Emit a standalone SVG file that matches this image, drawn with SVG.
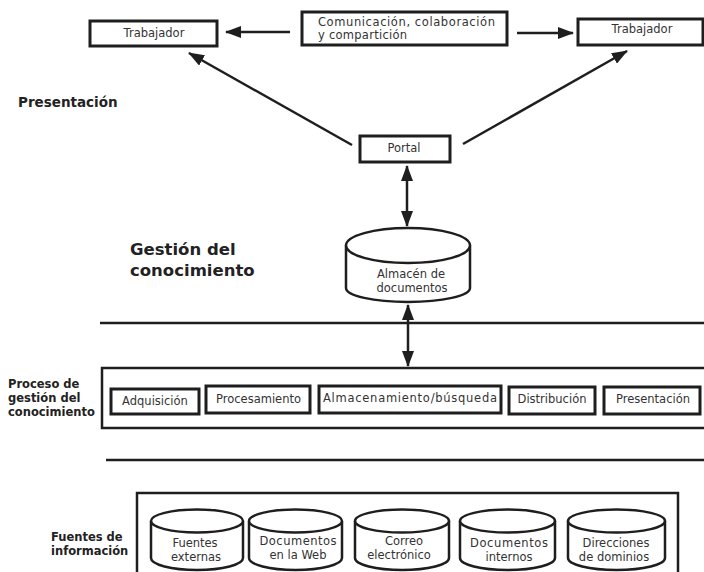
<svg xmlns="http://www.w3.org/2000/svg" width="704" height="572" viewBox="0 0 704 572">
<style>
.box{fill:#fff;stroke:#1e1e1e;stroke-width:3}
.frame{fill:none;stroke:#1e1e1e;stroke-width:2.5}
.cyl{fill:#fff;stroke:#1e1e1e;stroke-width:2.5}
.rule{stroke:#1e1e1e;stroke-width:2.5}
.conn{stroke:#1e1e1e;stroke-width:2.5;fill:none}
.t{font-family:"DejaVu Sans",sans-serif;font-size:11.5px;fill:#333}
.tc{font-family:"DejaVu Sans",sans-serif;font-size:11.5px;fill:#333;text-anchor:middle}
.lbl{font-family:"DejaVu Sans",sans-serif;font-weight:bold;fill:#222}
</style>
<defs>
<marker id="ah" viewBox="0 0 16 12" refX="15" refY="6" markerWidth="16" markerHeight="12" markerUnits="userSpaceOnUse" orient="auto-start-reverse">
<path d="M0,0 L16,6 L0,12 z" fill="#1e1e1e"/>
</marker>
</defs>
<rect width="704" height="572" fill="#fff"/>

<g id="connectors">
<line class="conn" x1="290" y1="32" x2="226" y2="32" marker-end="url(#ah)"/>
<line class="conn" x1="517" y1="33" x2="573" y2="33" marker-end="url(#ah)"/>
<line class="conn" x1="352" y1="145" x2="189" y2="53" marker-end="url(#ah)"/>
<line class="conn" x1="463" y1="144" x2="627" y2="51" marker-end="url(#ah)"/>
<line class="conn" x1="407" y1="166" x2="407" y2="226" marker-start="url(#ah)" marker-end="url(#ah)"/>
<line class="conn" x1="408" y1="305" x2="408" y2="366" marker-start="url(#ah)" marker-end="url(#ah)"/>
</g>

<g id="separators">
<line class="rule" x1="100" y1="323" x2="704" y2="323"/>
<line class="rule" x1="106" y1="460" x2="704" y2="460"/>
</g>

<g id="labels">
<text class="lbl" x="18" y="107" font-size="13.5">Presentación</text>
<text class="lbl" x="130" y="255" font-size="16.5">Gestión del</text>
<text class="lbl" x="130" y="276" font-size="16.5">conocimiento</text>
<text class="lbl" x="8" y="388" font-size="11.5">Proceso de</text>
<text class="lbl" x="8" y="402" font-size="11.5">gestión del</text>
<text class="lbl" x="8" y="416" font-size="11.5">conocimiento</text>
<text class="lbl" x="51" y="541" font-size="11.5">Fuentes de</text>
<text class="lbl" x="51" y="555" font-size="11.5">información</text>
</g>

<g id="trabajador-left">
<rect class="box" x="90" y="21" width="127" height="25"/>
<text class="tc" x="154" y="37">Trabajador</text>
</g>

<g id="comunicacion">
<rect class="box" x="302" y="12" width="205" height="33"/>
<text class="t" x="318" y="26" font-size="12" textLength="177">Comunicación, colaboración</text>
<text class="t" x="318" y="39" font-size="12" textLength="89">y compartición</text>
</g>

<g id="trabajador-right">
<rect class="box" x="578" y="19" width="125" height="26"/>
<text class="tc" x="642" y="33">Trabajador</text>
</g>

<g id="portal">
<rect class="box" x="360" y="136" width="90" height="26"/>
<text class="tc" x="404" y="152">Portal</text>
</g>

<g id="almacen">
<path class="cyl" d="M346,245.5 L346,288 A62,14 0 0 0 470,288 L470,245.5"/>
<ellipse class="cyl" cx="408" cy="245.5" rx="62" ry="17.5"/>
<text class="tc" x="411" y="278" font-size="12.5">Almacén de</text>
<text class="tc" x="412" y="292" font-size="12.5">documentos</text>
</g>

<g id="proceso">
<rect class="frame" x="102" y="368" width="606" height="60"/>
</g>

<g id="adquisicion">
<rect class="box" x="111" y="389" width="88" height="25"/>
<text class="tc" x="155" y="405">Adquisición</text>
</g>
<g id="procesamiento">
<rect class="box" x="206" y="386" width="104" height="27"/>
<text class="t" x="216" y="403">Procesamiento</text>
</g>
<g id="almacenamiento">
<rect class="box" x="319" y="386" width="182" height="27"/>
<text class="t" x="323" y="402" font-size="12" textLength="174">Almacenamiento/búsqueda</text>
</g>
<g id="distribucion">
<rect class="box" x="509" y="387" width="86" height="27"/>
<text class="tc" x="552" y="403">Distribución</text>
</g>
<g id="presentacion">
<rect class="box" x="604" y="387" width="96" height="27"/>
<text class="tc" x="653" y="403">Presentación</text>
</g>

<g id="fuentes">
<rect class="frame" x="137" y="493" width="541" height="90"/>
</g>

<g id="fuentes-externas">
<path class="cyl" d="M151,521 L151,558 A46,12 0 0 0 243,558 L243,521"/>
<ellipse class="cyl" cx="197" cy="521" rx="46" ry="11.5"/>
<text class="tc" x="195" y="547">Fuentes</text>
<text class="tc" x="196" y="561">externas</text>
</g>
<g id="documentos-web">
<path class="cyl" d="M249,521 L249,558 A46.5,12 0 0 0 342,558 L342,521"/>
<ellipse class="cyl" cx="295.5" cy="521" rx="46.5" ry="11.5"/>
<text class="tc" x="298" y="545" textLength="77">Documentos</text>
<text class="tc" x="298" y="559">en la Web</text>
</g>
<g id="correo">
<path class="cyl" d="M355,521 L355,558 A47,12 0 0 0 449,558 L449,521"/>
<ellipse class="cyl" cx="402" cy="521" rx="47" ry="11.5"/>
<text class="tc" x="404" y="545">Correo</text>
<text class="tc" x="399" y="559">electrónico</text>
</g>
<g id="documentos-internos">
<path class="cyl" d="M460,521 L460,558 A47.5,12 0 0 0 555,558 L555,521"/>
<ellipse class="cyl" cx="507.5" cy="521" rx="47.5" ry="11.5"/>
<text class="tc" x="509" y="547" textLength="78">Documentos</text>
<text class="tc" x="509" y="561">internos</text>
</g>
<g id="direcciones">
<path class="cyl" d="M568,521 L568,558 A48.5,12 0 0 0 665,558 L665,521"/>
<ellipse class="cyl" cx="616.5" cy="521" rx="48.5" ry="11.5"/>
<text class="tc" x="616" y="547">Direcciones</text>
<text class="tc" x="614" y="561">de dominios</text>
</g>
</svg>
